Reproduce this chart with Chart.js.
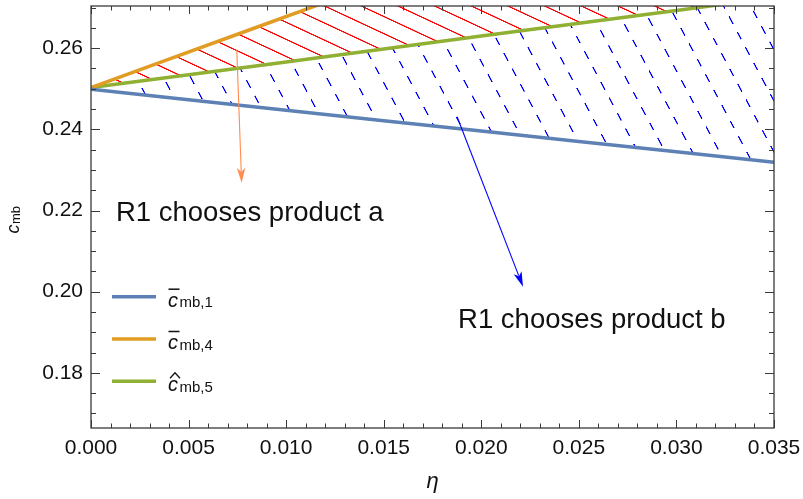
<!DOCTYPE html>
<html>
<head>
<meta charset="utf-8">
<script src="https://cdn.jsdelivr.net/npm/chart.js@4.4.0/dist/chart.umd.min.js"></script>
<style>
  html, body { margin: 0; padding: 0; background: #fff; }
  #wrap { width: 803px; height: 499px; position: relative; }
</style>
</head>
<body>
<div id="wrap"><canvas id="chart"></canvas></div>
<script>
// values
const etaBlue = [0, 0.005, 0.010, 0.015, 0.020, 0.025, 0.030, 0.035];
const cmb1 = [0.2499, 0.2473, 0.2447, 0.2421, 0.2396, 0.2370, 0.2345, 0.2319];

// orange leaves the plot at the top around eta = 0.0115, last point sits above the frame
const etaOrange = [0, 0.004, 0.008, 0.012, 0.035];
const cmb4 = [0.2503, 0.2573, 0.2643, 0.2713, 0.3115];

const etaGreen = [0, 0.010, 0.020, 0.030, 0.035];
const cmb5 = [0.2503, 0.2566, 0.2630, 0.2693, 0.2725];

const xTicks = [0, 0.005, 0.010, 0.015, 0.020, 0.025, 0.030, 0.035];
const yTicks = [0.18, 0.20, 0.22, 0.24, 0.26];

const legendSubs = ['mb,1', 'mb,4', 'mb,5'];
const legendMarks = ['bar', 'bar', 'hat'];

const regionLabels = ['R1 chooses product a', 'R1 chooses product b'];
const regionLabelX = [0.00128, 0.01881];
const regionLabelY = [0.2175, 0.1911];

const arrowFrom = [[0.00747, 0.2596], [0.01876, 0.2431]];
const arrowTo = [[0.00772, 0.2268], [0.02214, 0.2012]];
const arrowColors = ['#ff8c50', '#0000ff'];

const FONT = '"Liberation Sans", Arial, sans-serif';

const canvas = document.getElementById('chart');
const ctx = canvas.getContext('2d');

// rotated line pattern used for the hatched regions
function hatch(color, angleDeg, spacing, dash, gap, shift, width) {
    const period = dash + gap;
    const tile = document.createElement('canvas');
    tile.width = Math.round(period * 4);
    tile.height = Math.round(spacing * 4);
    const g = tile.getContext('2d');
    g.strokeStyle = color;
    g.lineWidth = width * 4;
    g.beginPath();
    g.moveTo(gap ? 0 : -4, tile.height / 2);
    g.lineTo(gap ? dash * 4 : tile.width + 4, tile.height / 2);
    g.stroke();
    const pat = ctx.createPattern(tile, 'repeat');
    const a = angleDeg * Math.PI / 180;
    const dx = Math.cos(a), dy = Math.sin(a);
    const nx = -dy, ny = dx;
    const k = shift / spacing;
    const s = period / tile.width;
    const t = spacing / tile.height;
    pat.setTransform(new DOMMatrix([dx * s, dy * s, (k * dx + nx) * t, (k * dy + ny) * t, 0, 0]));
    return pat;
}

const redHatch = hatch('#ff0000', 25, 15.5, 40, 0, 0, 1.2);
const blueHatch = hatch('#0000ff', 62, 24, 8.5, 9, -6.2, 1.3);

const framePlugin = {
    id: 'frame',
    afterDatasetsDraw(chart) {
        const { ctx, chartArea: a, scales: { x, y } } = chart;
        ctx.save();

        // inward ticks on all four sides
        ctx.strokeStyle = '#3a3a3a';
        ctx.lineWidth = 1;
        ctx.beginPath();
        for (let i = 0; i <= 35; i++) {
            const px = Math.round(x.getPixelForValue(i * 0.001)) + 0.5;
            const len = i % 5 === 0 ? 8 : 4.5;
            ctx.moveTo(px, a.bottom); ctx.lineTo(px, a.bottom - len);
            ctx.moveTo(px, a.top); ctx.lineTo(px, a.top + len);
        }
        for (let i = 34; i <= 54; i++) {
            const v = i * 0.005;
            if (v < y.min || v > y.max) continue;
            const py = Math.round(y.getPixelForValue(v)) + 0.5;
            const len = i % 4 === 0 ? 9 : 5;
            ctx.moveTo(a.left, py); ctx.lineTo(a.left + len, py);
            ctx.moveTo(a.right, py); ctx.lineTo(a.right - len, py);
        }
        ctx.stroke();

        ctx.lineWidth = 1.3;
        ctx.strokeRect(a.left, a.top, a.right - a.left, a.bottom - a.top);

        // arrows
        arrowFrom.forEach((f, i) => {
            const x0 = x.getPixelForValue(f[0]), y0 = y.getPixelForValue(f[1]);
            const x1 = x.getPixelForValue(arrowTo[i][0]), y1 = y.getPixelForValue(arrowTo[i][1]);
            const ang = Math.atan2(y1 - y0, x1 - x0);
            const hl = 15, hw = 4.2;
            ctx.strokeStyle = arrowColors[i];
            ctx.fillStyle = arrowColors[i];
            ctx.lineWidth = 1.1;
            ctx.beginPath();
            ctx.moveTo(x0, y0);
            ctx.lineTo(x1 - Math.cos(ang) * hl * 0.8, y1 - Math.sin(ang) * hl * 0.8);
            ctx.stroke();
            ctx.beginPath();
            ctx.moveTo(x1, y1);
            ctx.lineTo(x1 - Math.cos(ang) * hl - Math.sin(ang) * hw, y1 - Math.sin(ang) * hl + Math.cos(ang) * hw);
            ctx.lineTo(x1 - Math.cos(ang) * hl * 0.75, y1 - Math.sin(ang) * hl * 0.75);
            ctx.lineTo(x1 - Math.cos(ang) * hl + Math.sin(ang) * hw, y1 - Math.sin(ang) * hl - Math.cos(ang) * hw);
            ctx.closePath();
            ctx.fill();
        });

        // region texts
        ctx.fillStyle = '#111';
        ctx.font = '27.5px ' + FONT;
        ctx.textAlign = 'left';
        ctx.textBaseline = 'alphabetic';
        regionLabels.forEach((t, i) => {
            ctx.fillText(t, x.getPixelForValue(regionLabelX[i]), y.getPixelForValue(regionLabelY[i]));
        });

        // axis titles
        ctx.font = 'italic 22px ' + FONT;
        ctx.textAlign = 'center';
        ctx.fillText('\u03b7', (a.left + a.right) / 2, 488);

        ctx.save();
        ctx.translate(19, 220);
        ctx.rotate(-Math.PI / 2);
        ctx.font = 'italic 18px ' + FONT;
        const wc = ctx.measureText('c').width;
        ctx.font = '13px ' + FONT;
        const ws = ctx.measureText('mb').width;
        const x0 = -(wc + ws) / 2;
        ctx.textAlign = 'left';
        ctx.font = 'italic 18px ' + FONT;
        ctx.fillText('c', x0, 0);
        ctx.font = '13px ' + FONT;
        ctx.fillText('mb', x0 + wc + 0.5, 1);
        ctx.restore();

        // legend
        chart.data.datasets.forEach((ds, i) => {
            const ly = 296.7 + i * 42.3;
            ctx.strokeStyle = ds.borderColor;
            ctx.lineWidth = 3.5;
            ctx.beginPath();
            ctx.moveTo(112, ly); ctx.lineTo(156, ly);
            ctx.stroke();
            ctx.fillStyle = '#111';
            ctx.textAlign = 'left';
            ctx.font = 'italic 20px ' + FONT;
            ctx.fillText('c', 168, ly + 10);
            const cw = ctx.measureText('c').width;
            ctx.strokeStyle = '#111';
            ctx.lineWidth = 1.5;
            ctx.beginPath();
            if (legendMarks[i] === 'bar') {
                ctx.moveTo(168.5, ly - 7.5); ctx.lineTo(179.5, ly - 7.5);
            } else {
                ctx.lineWidth = 1.3;
                ctx.moveTo(170, ly - 3); ctx.lineTo(175, ly - 8.5); ctx.lineTo(180, ly - 3);
            }
            ctx.stroke();
            ctx.font = '15px ' + FONT;
            ctx.fillText(legendSubs[i], 168 + cw + 1.5, ly + 10.5);
        });

        ctx.restore();
    }
};

const tickFont = { family: FONT, size: 21 };

new Chart(ctx, {
    type: 'line',
    data: {
        datasets: [
            {
                label: 'c_mb,1',
                data: etaBlue.map((v, i) => ({ x: v, y: cmb1[i] })),
                borderColor: '#5e81b5',
                borderWidth: 3.5,
                pointRadius: 0,
                fill: false
            },
            {
                label: 'c_mb,4',
                data: etaOrange.map((v, i) => ({ x: v, y: cmb4[i] })),
                borderColor: '#e19c24',
                borderWidth: 3.5,
                pointRadius: 0,
                fill: { target: 2 },
                backgroundColor: redHatch
            },
            {
                label: 'c_mb,5',
                data: etaGreen.map((v, i) => ({ x: v, y: cmb5[i] })),
                borderColor: '#8fb032',
                borderWidth: 3.5,
                pointRadius: 0,
                fill: { target: 0 },
                backgroundColor: blueHatch
            }
        ]
    },
    options: {
        responsive: true,
        maintainAspectRatio: false,
        animation: false,
        layout: { padding: { top: 6, right: 29, left: 0, bottom: 0 } },
        scales: {
            x: {
                type: 'linear',
                min: 0,
                max: 0.035,
                afterFit: s => { s.height = 71; s.paddingLeft = 0; s.paddingRight = 0; },
                afterBuildTicks: s => { s.ticks = xTicks.map(v => ({ value: v })); },
                grid: { display: false, drawTicks: false },
                border: { display: false },
                ticks: {
                    padding: 8,
                    font: tickFont,
                    color: '#111',
                    maxRotation: 0,
                    autoSkip: false,
                    callback: v => v.toFixed(3)
                }
            },
            y: {
                type: 'linear',
                min: 0.1664,
                max: 0.2704,
                afterFit: s => { s.width = 91; s.paddingTop = 0; s.paddingBottom = 0; },
                afterBuildTicks: s => { s.ticks = yTicks.map(v => ({ value: v })); },
                grid: { display: false, drawTicks: false },
                border: { display: false },
                ticks: {
                    padding: 8,
                    font: tickFont,
                    color: '#111',
                    autoSkip: false,
                    callback: v => v.toFixed(2)
                }
            }
        },
        plugins: {
            legend: { display: false },
            tooltip: { enabled: false },
            filler: { drawTime: 'beforeDatasetsDraw' }
        }
    },
    plugins: [framePlugin]
});
</script>
</body>
</html>
